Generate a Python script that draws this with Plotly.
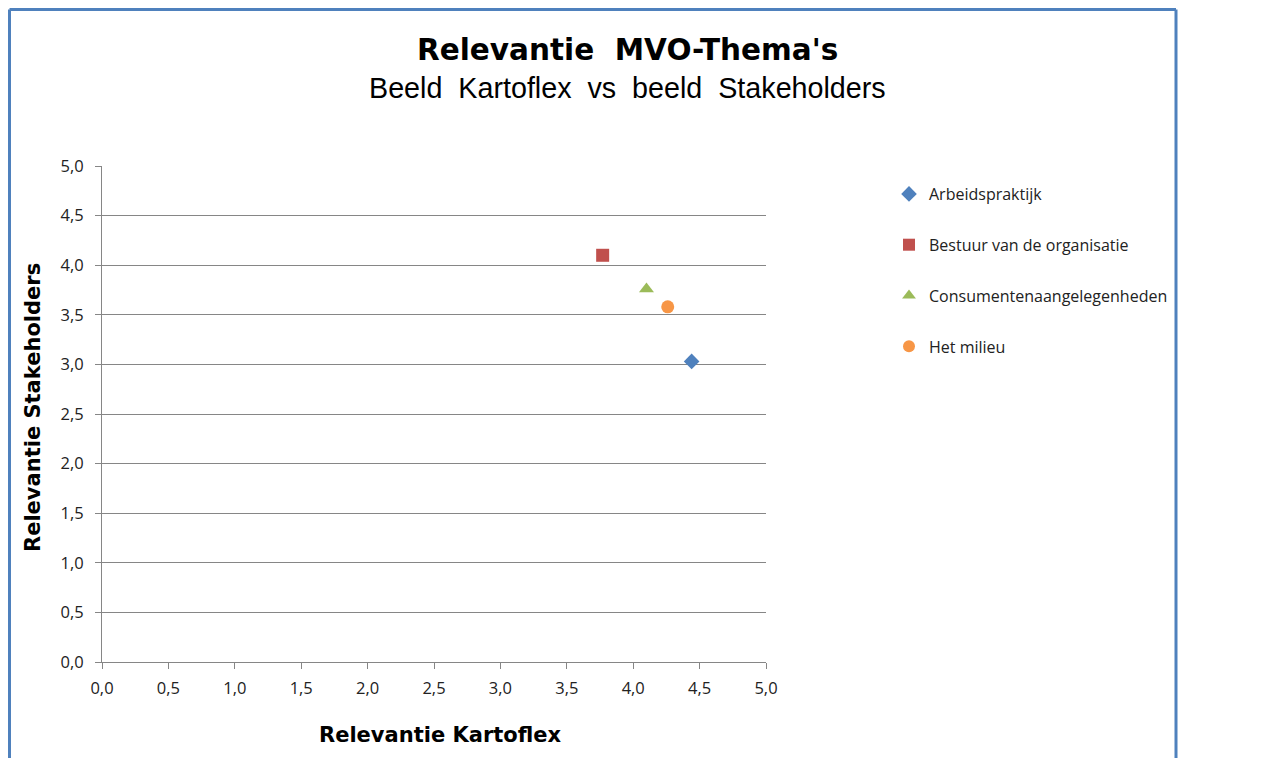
import plotly.graph_objects as go

series_names = ["Arbeidspraktijk", "Bestuur van de organisatie", "Consumentenaangelegenheden", "Het milieu"]
x_values = [4.44, 3.77, 4.10, 4.26]
y_values = [3.03, 4.10, 3.76, 3.58]
symbols = ["diamond", "square", "triangle-up", "circle"]
colors = ["#4F81BD", "#C0504D", "#9BBB59", "#F79646"]
sizes = [12, 13, 13, 13]
tick_vals = [0, 0.5, 1, 1.5, 2, 2.5, 3, 3.5, 4, 4.5, 5]

OFF = 8  # page offset of the figure
W, H = 1281 - OFF, 758 - OFF
L, T = 102 - OFF, 166 - OFF
R = W - (766 - OFF)
B = H - (662 - OFF)
pw, ph = W - L - R, H - T - B

def px(x):
    return (x - OFF - L) / pw

def py(y):
    return (H - B - (y - OFF)) / ph

fig = go.Figure()
for i, name in enumerate(series_names):
    fig.add_trace(go.Scatter(
        x=[x_values[i]], y=[y_values[i]], mode="markers", name=name,
        legendgroup=name,
        marker=dict(symbol=symbols[i], color=colors[i], size=sizes[i], line=dict(width=0)),
    ))

axis_common = dict(
    range=[0, 5], tickvals=tick_vals, tickformat=".1f",
    showline=True, linecolor="#868686", linewidth=1,
    ticks="outside", ticklen=6, tickcolor="#868686",
    tickfont=dict(family="Open Sans", size=16.5, color="#222222"),
    zeroline=False, fixedrange=True,
)
fig.update_xaxes(**axis_common, showgrid=False, ticklabelstandoff=5)
fig.update_yaxes(**axis_common, showgrid=True, gridcolor="#868686", gridwidth=1, ticklabelstandoff=8)

fig.update_layout(
    width=W, height=H,
    margin=dict(l=L, r=R, t=T, b=B),
    paper_bgcolor="white", plot_bgcolor="white",
    separators=",.",
    showlegend=True,
    legend=dict(
        x=px(889), y=py(177), xanchor="left", yanchor="top",
        font=dict(family="Open Sans", size=16, color="#222222"),
        tracegroupgap=27, itemsizing="constant",
        bgcolor="rgba(0,0,0,0)",
    ),
    annotations=[
        dict(text="<b>Relevantie  MVO-Thema's</b>", x=px(627), y=py(50), xref="paper", yref="paper",
             showarrow=False, xanchor="center", yanchor="middle",
             font=dict(family="DejaVu Sans", size=29.5, color="black")),
        dict(text="Beeld  Kartoflex  vs  beeld  Stakeholders", x=px(627), y=py(88), xref="paper", yref="paper",
             showarrow=False, xanchor="center", yanchor="middle",
             font=dict(family="Liberation Sans", size=28.7, color="black")),
        dict(text="<b>Relevantie Kartoflex</b>", x=px(440), y=py(735), xref="paper", yref="paper",
             showarrow=False, xanchor="center", yanchor="middle",
             font=dict(family="DejaVu Sans", size=21, color="black")),
        dict(text="<b>Relevantie Stakeholders</b>", x=px(33), y=py(408), xref="paper", yref="paper",
             showarrow=False, xanchor="center", yanchor="middle", textangle=-90,
             font=dict(family="DejaVu Sans", size=21, color="black")),
    ],
    shapes=[
        dict(type="line", xref="paper", yref="paper", x0=px(9.5), x1=px(1176), y0=py(9.5), y1=py(9.5),
             line=dict(color="#4F81BD", width=3)),
        dict(type="line", xref="paper", yref="paper", x0=px(9.5), x1=px(9.5), y0=py(9.5), y1=py(770),
             line=dict(color="#4F81BD", width=3)),
        dict(type="line", xref="paper", yref="paper", x0=px(1176), x1=px(1176), y0=py(9.5), y1=py(770),
             line=dict(color="#4F81BD", width=3)),
    ],
)

fig.write_html("out.html")
